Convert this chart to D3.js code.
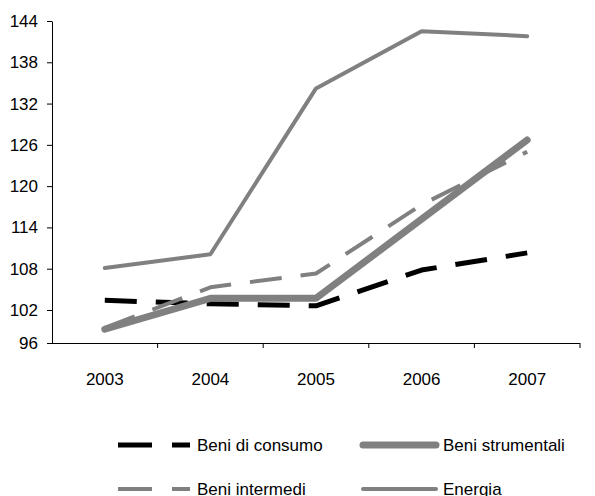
<!DOCTYPE html>
<html>
<head>
<meta charset="utf-8">
<script src="https://cdn.jsdelivr.net/npm/d3@7"></script>
<style>
  body { margin: 0; background: #fff; }
  svg text { font-family: "Liberation Sans", Arial, sans-serif; fill: #000; }
</style>
</head>
<body>
<div id="chart"></div>
<script>
const years = ["2003", "2004", "2005", "2006", "2007"];
const consumo = [103.4, 102.9, 102.6, 107.8, 110.3];
const strumentali = [99.2, 103.7, 103.7, 115.2, 126.7];
const intermedi = [99.4, 105.3, 107.3, 117.3, 125.0];
const energia = [108.1, 110.1, 134.2, 142.5, 141.8];
const yTicks = [96, 102, 108, 114, 120, 126, 132, 138, 144];
// the value axis actually starts a little above its first label
const yMin = 97.2, yMax = 144;

const series = [
    {name: "Beni di consumo", values: consumo, color: "#000", w: 5, dash: "32,19", cap: "butt"},
    {name: "Beni strumentali", values: strumentali, color: "#808080", w: 7, dash: null, cap: "round"},
    {name: "Beni intermedi", values: intermedi, color: "#808080", w: 4, dash: "32,19", cap: "butt"},
    {name: "Energia", values: energia, color: "#808080", w: 4, dash: null, cap: "round"}
];

const width = 595, height = 496;
const svg = d3.select("#chart").append("svg")
    .attr("width", width)
    .attr("height", height);

const x = d3.scaleBand().domain(years).range([52, 580]);
const y = d3.scaleLinear().domain([yMin, yMax]).range([343, 21]).clamp(true);

// axes
const yAxis = svg.append("g")
    .attr("transform", "translate(52,0)")
    .call(d3.axisLeft(y).tickValues(yTicks).tickSize(5).tickPadding(9).tickSizeOuter(0));
const xAxis = svg.append("g")
    .attr("transform", "translate(0,343)")
    .call(d3.axisBottom(x).tickSize(0).tickPadding(30));

// x tick marks sit on the band edges
xAxis.selectAll(".edge")
    .data(years)
    .enter().append("line")
    .attr("x1", d => x(d) + x.bandwidth())
    .attr("x2", d => x(d) + x.bandwidth())
    .attr("y1", 0).attr("y2", 5)
    .attr("stroke", "#000");

[yAxis, xAxis].forEach(g => {
    g.selectAll("text").style("font-size", "17px").attr("font-family", null);
    g.selectAll("path, line").attr("stroke", "#000");
});
xAxis.select(".domain").attr("d", "M52,0.5H580");

const line = d3.line()
    .x((d, i) => x(years[i]) + x.bandwidth() / 2)
    .y(d => y(d));

svg.append("g").selectAll("path")
    .data(series)
    .enter().append("path")
    .attr("d", d => line(d.values))
    .attr("fill", "none")
    .attr("stroke", d => d.color)
    .attr("stroke-width", d => d.w)
    .attr("stroke-dasharray", d => d.dash)
    .attr("stroke-linecap", d => d.cap)
    .attr("stroke-linejoin", "round");

// legend, two columns
const legend = svg.append("g").selectAll("g")
    .data(series)
    .enter().append("g")
    .attr("transform", (d, i) => "translate(" + (i % 2 ? 362 : 118) + "," + (i < 2 ? 445 : 489) + ")");

legend.append("line")
    .attr("x1", d => d.dash ? 0 : 1)
    .attr("x2", d => d.dash ? 72 : 74)
    .attr("stroke", d => d.color)
    .attr("stroke-width", d => d.w)
    .attr("stroke-dasharray", d => d.dash ? "34,20" : null)
    .attr("stroke-linecap", d => d.cap);

legend.append("text")
    .attr("x", (d, i) => i % 2 ? 81 : 79)
    .attr("y", 5.5)
    .style("font-size", "17px")
    .text(d => d.name);
</script>
</body>
</html>
